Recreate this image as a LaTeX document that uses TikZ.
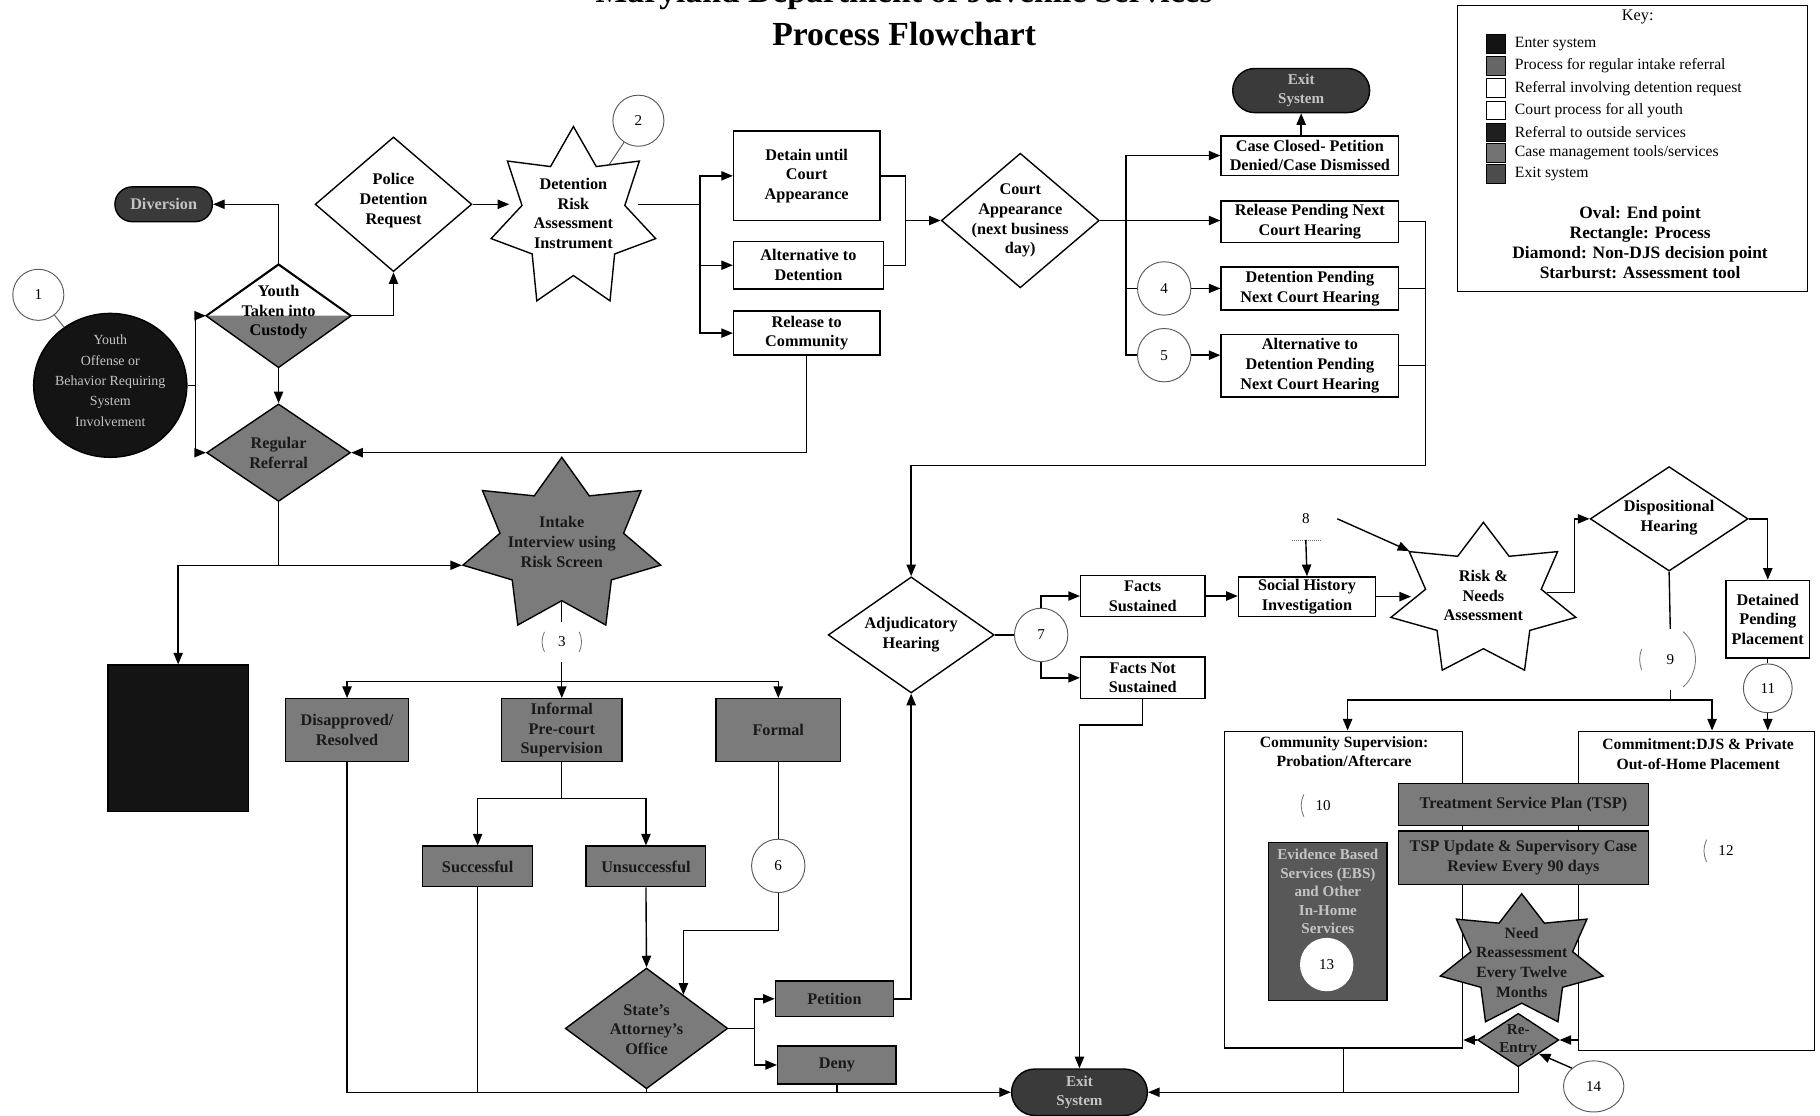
\documentclass[tikz,border=0pt]{standalone}
\usepackage{fontspec}
\setmainfont{Liberation Serif}
\usetikzlibrary{shapes.geometric,arrows.meta,calc}
\definecolor{gfill}{HTML}{7B7B7B}
\definecolor{gdark}{HTML}{585858}
\definecolor{ink}{HTML}{141414}
\definecolor{exitc}{HTML}{3A3A3A}
\definecolor{lighttxt}{HTML}{C4C4C4}
\newcommand{\nfont}{\bfseries\fontsize{14}{17}\selectfont}
\newcommand{\cfont}{\fontsize{13}{15}\selectfont}
\newcommand{\kfont}{\fontsize{13.5}{15}\selectfont}
\begin{document}
\begin{tikzpicture}[x=1pt,y=-1pt,
  every node/.style={font=\nfont},
  ln/.style={line width=1.2pt},
  arr/.style={line width=1.2pt,-{Triangle[length=10pt,width=8pt]}},
  box/.style={draw, line width=1.2pt, fill=white, align=center, inner sep=1pt},
  gbox/.style={box, fill=gfill, text=black!90},
  dia/.style={draw, diamond, line width=1.2pt, inner sep=0pt, fill=white},
  starb/.style={draw, star, star points=7, star point ratio=1.6, line width=1.2pt, inner sep=0pt, transform shape},
  txt/.style={align=center, inner sep=0pt},
  oval/.style={draw, line width=1.2pt, fill=exitc, text=lighttxt, align=center, inner sep=0pt},
  callout/.style={circle, draw=black!65, line width=0.8pt, fill=white, inner sep=0pt, font=\cfont, minimum size=44pt},
  bare/.style={circle, draw=none, inner sep=0pt, font=\cfont},
  arc/.style={draw=black!55, line width=0.7pt},
  swatch/.style={draw, line width=0.8pt, minimum size=16pt, inner sep=0pt},
  ktxt/.style={anchor=west, font=\kfont, inner sep=0pt},
]
\useasboundingbox (0,0) rectangle (1568,961);
\fill[white] (0,0) rectangle (1568,961);
\clip (0,0) rectangle (1568,961);

% titles
\node[font=\bfseries\fontsize{29}{34}\selectfont, anchor=base] (title1) at (779,2.5) {Maryland Department of Juvenile Services};
\node[font=\bfseries\fontsize{29}{34}\selectfont, anchor=base] (title2) at (779,39) {Process Flowchart};

% key
\node[draw, line width=1pt, minimum width=301pt, minimum height=246pt, inner sep=0pt] (key) at (1406.5,128) {};
\node[font=\fontsize{14}{16}\selectfont] (keyt) at (1411,15) {Key:};
\node[swatch, fill=ink] (s1) at (1289,38) {};
\node[ktxt] (k1) at (1305,38) {Enter system};
\node[swatch, fill=black!60] (s2) at (1289,57) {};
\node[ktxt] (k2) at (1305,57) {Process for regular intake referral};
\node[swatch, fill=white] (s3) at (1289,76) {};
\node[ktxt] (k3) at (1305,76) {Referral involving detention request};
\node[swatch, fill=white] (s4) at (1289,95) {};
\node[ktxt] (k4) at (1305,95) {Court process for all youth};
\node[swatch, fill=black!88] (s5) at (1289,114) {};
\node[ktxt] (k5) at (1305,114) {Referral to outside services};
\node[swatch, fill=black!55] (s6) at (1289,132) {};
\node[ktxt] (k6) at (1305,132) {Case management tools/services};
\node[swatch, fill=black!70] (s7) at (1289,150) {};
\node[ktxt] (k7) at (1305,150) {Exit system};
\node[txt, font=\bfseries\fontsize{15}{17}\selectfont] (kshapes) at (1413,209) {Oval: End point\\Rectangle: Process\\Diamond: Non-DJS decision point\\Starburst: Assessment tool};

% entry
\node[ellipse, draw, line width=1.2pt, fill=ink, minimum width=132pt, minimum height=124pt, inner sep=0pt] (youthc) at (95,332) {};
\node[txt, text=lighttxt, font=\fontsize{12}{17.5}\selectfont] (youthct) at (95,328) {Youth\\Offense or\\Behavior Requiring\\System\\Involvement};
\node[callout] (c1) at (33,254) {1};

\node[oval, minimum width=84pt, minimum height=30pt, rounded corners=15pt] (diversion) at (141,176) {Diversion};

\node[dia, minimum width=124pt, minimum height=88pt] (custody) at (240,272) {};
\fill[gfill] (custody.west) -- (custody.south) -- (custody.east) -- cycle;
\draw[line width=1.2pt] (custody.north) -- (custody.east) -- (custody.south) -- (custody.west) -- cycle;
\node[txt] (custodyt) at (240,269) {Youth\\Taken into\\Custody};

\node[dia, minimum width=135pt, minimum height=116pt] (police) at (339,176) {};
\node[txt] (policet) at (339,173) {Police\\Detention\\Request};

\begin{scope}[shift={(494,188)}, xscale=0.92]
\node[starb, fill=white, minimum size=158pt] (detstar) at (0,0) {};
\end{scope}
\node[txt] (detstart) at (494,184) {Detention\\Risk\\Assessment\\Instrument};
\node[callout] (c2) at (550,104) {2};

\node[box, minimum width=126pt, minimum height=77pt] (detain) at (695,151.5) {Detain until\\Court\\Appearance};
\node[box, minimum width=129pt, minimum height=41pt] (alt) at (696.5,228.5) {Alternative to\\Detention};
\node[box, minimum width=126pt, minimum height=38pt] (release) at (695,287) {Release to\\Community};

\node[dia, minimum width=136pt, minimum height=116pt] (court) at (879,190) {};
\node[txt] (courtt) at (879,190) {Court\\Appearance\\(next business\\day)};

\node[oval, minimum width=118pt, minimum height=38pt, rounded corners=19pt, font=\bfseries\fontsize{13}{16}\selectfont] (exitt) at (1121,78) {Exit\\System};
\node[box, minimum width=153pt, minimum height=34pt] (caseclosed) at (1128.5,134) {Case Closed- Petition\\Denied/Case Dismissed};
\node[box, minimum width=153pt, minimum height=36pt] (relpend) at (1128.5,191) {Release Pending Next\\Court Hearing};
\node[box, minimum width=153pt, minimum height=37pt] (detpend) at (1128.5,248.5) {Detention Pending\\Next Court Hearing};
\node[box, minimum width=153pt, minimum height=54pt] (altpend) at (1128.5,315) {Alternative to\\Detention Pending\\Next Court Hearing};
\node[callout, minimum size=46pt] (c4) at (1003,248.5) {4};
\node[callout, minimum size=46pt] (c5) at (1003,306) {5};

% regular referral path
\node[dia, fill=gfill, minimum width=124pt, minimum height=84pt] (regref) at (240,390) {};
\node[txt, text=black!90] (regreft) at (240,390) {Regular\\Referral};
\node[draw, line width=1.2pt, fill=ink, minimum width=121pt, minimum height=126pt, inner sep=0pt] (outside) at (153.5,636) {};

\begin{scope}[shift={(484,470)}, xscale=1.15]
\node[starb, fill=gfill, minimum size=152pt] (intake) at (0,0) {};
\end{scope}
\node[txt, text=black!90] (intaket) at (484,467) {Intake\\Interview using\\Risk Screen};
\node[bare, fill=white, minimum size=34pt] (c3) at (484,553) {3};
\draw[arc] (c3.150) to[bend right=25] (c3.210);
\draw[arc] (c3.30) to[bend left=25] (c3.-30);

\node[gbox, minimum width=106pt, minimum height=54pt] (disapp) at (299,629) {Disapproved/\\Resolved};
\node[gbox, minimum width=104pt, minimum height=54pt] (informal) at (484,629) {Informal\\Pre-court\\Supervision};
\node[gbox, minimum width=107pt, minimum height=54pt] (formal) at (670.5,629) {Formal};
\node[gbox, minimum width=95pt, minimum height=35pt] (succ) at (411.5,746.5) {Successful};
\node[gbox, minimum width=103pt, minimum height=35pt] (unsucc) at (556.5,746.5) {Unsuccessful};
\node[callout, minimum size=46pt] (c6) at (670.5,746) {6};
\node[dia, fill=gfill, minimum width=140pt, minimum height=104pt] (sao) at (557,886) {};
\node[txt, text=black!90] (saot) at (557,887) {State's\\Attorney's\\Office};
\node[gbox, minimum width=102pt, minimum height=31pt] (petition) at (719,860.5) {Petition};
\node[gbox, minimum width=102pt, minimum height=33pt] (deny) at (721,917.5) {Deny};
\node[oval, minimum width=117pt, minimum height=40pt, rounded corners=20pt, font=\bfseries\fontsize{13}{16}\selectfont] (exitb) at (930,941) {Exit\\System};

% court process
\node[dia, minimum width=143pt, minimum height=100pt] (adj) at (785,547) {};
\node[txt] (adjt) at (785,547) {Adjudicatory\\Hearing};
\node[callout, minimum size=46pt] (c7) at (897,547) {7};
\node[box, minimum width=107pt, minimum height=35pt] (factsS) at (984.5,513.5) {Facts\\Sustained};
\node[box, minimum width=107pt, minimum height=36pt] (factsN) at (984.5,584) {Facts Not\\Sustained};
\node[box, minimum width=118pt, minimum height=34pt] (social) at (1126,514) {Social History\\Investigation};
\node[bare, minimum size=36pt] (c8) at (1125,447) {8};
\draw[arc, densely dotted] ([xshift=-12pt]c8.south) -- ([xshift=12pt]c8.south);
\begin{scope}[shift={(1278,517)}, xscale=1.22]
\node[starb, fill=white, minimum size=134pt] (rnstar) at (0,0) {};
\end{scope}
\node[txt] (rnstart) at (1278,513) {Risk \&\\Needs\\Assessment};
\node[dia, minimum width=136pt, minimum height=90pt] (disp) at (1438,447) {};
\node[txt] (dispt) at (1438,446) {Dispositional\\Hearing};
\node[box, minimum width=72pt, minimum height=67pt] (detpl) at (1523,533.5) {Detained\\Pending\\Placement};
\node[callout, minimum size=42pt] (c11) at (1523,593) {11};
\node[bare, fill=white, minimum size=52pt] (c9) at (1439,568) {9};
\draw[arc] (c9.65) to[bend left=50] (c9.-65);
\draw[arc] (c9.160) to[bend right=20] (c9.200);

\node[box, minimum width=205pt, minimum height=273pt] (community) at (1157.5,766.5) {};
\node[txt, anchor=north, font=\bfseries\fontsize{13.5}{17}\selectfont] (communityt) at (1158,634) {Community Supervision:\\Probation/Aftercare};
\node[box, minimum width=203pt, minimum height=275pt] (commit) at (1461.5,767.5) {};
\node[txt, anchor=north, font=\bfseries\fontsize{13.5}{17}\selectfont] (committ) at (1463,636) {Commitment:DJS \& Private\\Out-of-Home Placement};
\node[bare, minimum size=38pt] (c10) at (1140,694) {10};
\draw[arc] (c10.150) to[bend right=25] (c10.210);
\node[bare, minimum size=38pt] (c12) at (1487,733) {12};
\draw[arc] (c12.150) to[bend right=25] (c12.210);
\node[gbox, minimum width=215pt, minimum height=36pt] (tsp) at (1312.5,693) {Treatment Service Plan (TSP)};
\node[gbox, minimum width=215pt, minimum height=46pt] (tspu) at (1312.5,739) {TSP Update \& Supervisory Case\\Review Every 90 days};
\node[box, fill=gdark, minimum width=102pt, minimum height=136pt] (ebs) at (1144,794) {};
\node[txt, text=lighttxt, font=\bfseries\fontsize{13}{16}\selectfont] (ebst) at (1144,768) {Evidence Based\\Services (EBS)\\and Other\\In-Home\\Services};
\node[circle, fill=white, minimum size=46pt, inner sep=0pt, font=\cfont] (c13) at (1143,831) {13};
\begin{scope}[shift={(1311,828)}, xscale=1.24]
\node[starb, fill=gfill, minimum size=116pt] (needstar) at (0,0) {};
\end{scope}
\node[txt, text=black!90, font=\bfseries\fontsize{13.5}{17}\selectfont] (needt) at (1311,829) {Need\\Reassessment\\Every Twelve\\Months};
\node[dia, fill=gfill, minimum width=70pt, minimum height=46pt] (reentry) at (1308,896) {};
\node[txt, text=black!90, font=\bfseries\fontsize{13}{15}\selectfont] (reentryt) at (1308,896) {Re-\\Entry};
\node[callout, ellipse, minimum width=52pt, minimum height=44pt] (c14) at (1373,936) {14};

% ---------- connectors ----------
\draw[line width=0.8pt, black!65] (c1) -- (youthc);
\draw[line width=0.8pt, black!65] (c2) -- (detstar);
\draw[arr] (youthc.east) -- ++(7,0) |- (custody.west);
\draw[arr] (youthc.east) -- ++(7,0) |- (regref.west);
\draw[arr] (custody.north) |- (diversion.east);
\draw[arr] (custody.east) -| (police.south);
\draw[arr] (custody.south) -- (regref.north);
\draw[arr] (police.east) -- (police.east -| detstar.180);

\coordinate (dsbus) at (603,176);
\draw[ln] (detstar.0 |- dsbus) -- (dsbus);
\draw[arr] (dsbus) |- (detain.west);
\draw[arr] (dsbus) |- (alt.west);
\draw[arr] (dsbus) |- (release.west);
\coordinate (dabus) at (780,190);
\draw[ln] (detain.east) -| (dabus);
\draw[ln] (alt.east) -| (dabus);
\draw[arr] (dabus) -- (court.west);
\draw[arr] (release.south) |- (regref.east);

\coordinate (cbus) at (970,190);
\draw[arr] (court.east) -- (court.east -| relpend.west);
\draw[arr] (cbus) |- (caseclosed.west);
\draw[ln] (cbus) |- (c4.west);
\draw[arr] (c4.east) -- (c4.east -| detpend.west);
\draw[ln] (cbus) |- (c5.west);
\draw[arr] (c5.east) -- (c5.east -| altpend.west);
\draw[arr] (exitt.south |- caseclosed.north) -- (exitt.south);

\coordinate (rbus) at (1228,401);
\draw[arr] (relpend.east) -| (rbus) -| (adj.north);
\draw[ln] (detpend.east) -- (detpend.east -| rbus);
\draw[ln] (altpend.east) -- (altpend.east -| rbus);

\coordinate (rrbus) at (240,487);
\draw[ln] (regref.south) -- (rrbus);
\draw[arr] (rrbus) -- (rrbus -| intake.193);
\draw[arr] (rrbus) -| (outside.north);

\coordinate (ibus) at (484,587);
\draw[ln] (intake.270) -- (c3.north);
\draw[ln] (c3.south) -- (ibus);
\draw[arr] (ibus) -| (disapp.north);
\draw[arr] (ibus) -- (informal.north);
\draw[arr] (ibus) -| (formal.north);
\coordinate (infbus) at (484,688);
\draw[ln] (informal.south) -- (infbus);
\draw[arr] (infbus) -| (succ.north);
\draw[arr] (infbus) -| (unsucc.north);
\draw[arr] (unsucc.south) -- (sao.north);
\draw[ln] (formal.south) -- (c6.north);
\coordinate (saoin) at ($(sao.north)!0.45!(sao.east)$);
\draw[arr] (c6.south) -- ++(0,32) -| (saoin);
\coordinate (sbus) at (650,886);
\draw[ln] (sao.east) -- (sbus);
\draw[arr] (sbus) |- (petition.west);
\draw[arr] (sbus) |- (deny.west);
\draw[arr] (petition.east) -| (adj.south);
\draw[arr] (disapp.south) |- (exitb.west);
\draw[ln] (succ.south) -- (succ.south |- exitb.west);
\draw[ln] (sao.south) -- (sao.south |- exitb.west);
\draw[ln] (deny.south) -- (deny.south |- exitb.west);

\draw[ln] (adj.east) -- (c7.west);
\draw[arr] (c7.north) |- (factsS.west);
\draw[arr] (c7.south) |- (factsN.west);
\draw[arr] (factsN.south) -- ++(0,22) -| (exitb.north);
\draw[arr] (factsS.east) -- (factsS.east -| social.west);
\draw[arr] (c8.south) -- (social.north);
\draw[arr] ([xshift=9pt]c8.east) -- (rnstar.141);
\draw[arr] (social.east) -- (social.east -| rnstar.180);
\draw[arr] (rnstar.8) -| ([xshift=-13pt]disp.west) -- (disp.west);
\draw[arr] (disp.east) -| (detpl.north);
\draw[ln] (disp.south) -- (c9.north);
\coordinate (busD) at (1439,603);
\draw[ln] (c9.south) -- (busD);
\draw[arr] (busD) -| ([xshift=3.5pt]community.north);
\draw[arr] (busD) -| ([xshift=13.5pt]commit.north);
\draw[ln] (detpl.south) -- (c11.north);
\draw[arr] (c11.south) -- (c11.south |- commit.north);
\draw[arr] (commit.west |- reentry.east) -- (reentry.east);
\draw[arr] (reentry.west) -- (reentry.west -| community.east);
\draw[arr] (c14.140) -- (reentry.south east);
\draw[arr] (community.south) |- (exitb.east);
\draw[ln] (reentry.south) |- (community.south |- exitb.east);
\end{tikzpicture}
\end{document}
